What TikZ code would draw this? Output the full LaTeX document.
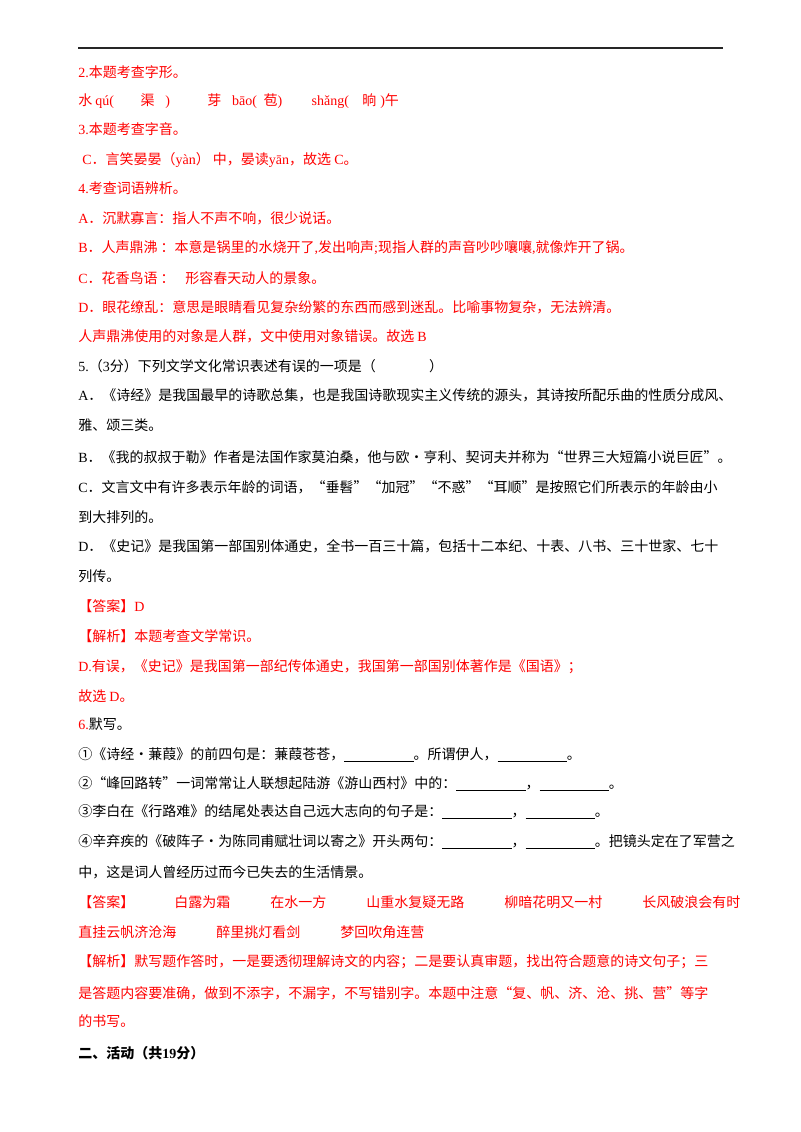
\documentclass[tikz,border=0pt]{standalone}
\usepackage{fontspec}
\setmainfont{Noto Sans CJK SC}
\newfontfamily\lt{Liberation Serif}
\definecolor{rd}{RGB}{255,0,0}
\newcommand{\bl}{\underline{\hspace{52pt}}}
\begin{document}
\begin{tikzpicture}[x=0.75pt,y=-0.75pt,
  ln/.style={anchor=west,inner sep=0pt,font=\fontsize{10.5pt}{12pt}\selectfont},
  r/.style={ln,text=rd}]
\useasboundingbox (0,0) rectangle (800,1132);
\draw[line width=1.2pt,black!85] (78,48) -- (723,48);
\node[r] (l1) at (78,72) {{\lt 2.}本题考查字形。};
\node[r] (l2) at (78,101) {水 {\lt qú(}\hspace{20pt}渠\hspace{8pt}{\lt )}\hspace{28pt}芽\hspace{8pt}{\lt bāo(}\hspace{5pt}苞{\lt )}\hspace{22pt}{\lt shǎng(}\hspace{10pt}晌\hspace{3pt}{\lt )}午};
\node[r] (l3) at (78,129) {{\lt 3.}本题考查字音。};
\node[r] (l4) at (82,160) {{\lt C}．言笑晏晏（{\lt yàn}） 中，晏读{\lt yān}，故选 {\lt C}。};
\node[r] (l5) at (78,188) {{\lt 4.}考查词语辨析。};
\node[r] (l6) at (78,218) {{\lt A}．沉默寡言：指人不声不响，很少说话。};
\node[r] (l7) at (78,248) {{\lt B}．人声鼎沸 ：本意是锅里的水烧开了{\lt ,}发出响声{\lt ;}现指人群的声音吵吵嚷嚷{\lt ,}就像炸开了锅。};
\node[r] (l8) at (78,278) {{\lt C}．花香鸟语 ：\hspace{8pt}形容春天动人的景象。};
\node[r] (l9) at (78,307) {{\lt D}．眼花缭乱：意思是眼睛看见复杂纷繁的东西而感到迷乱。比喻事物复杂，无法辨清。};
\node[r] (l10) at (78,336) {人声鼎沸使用的对象是人群，文中使用对象错误。故选 {\lt B}};
\node[ln] (l11) at (78,366) {{\lt 5.}（{\lt 3}分）下列文学文化常识表述有误的一项是（\hspace{40pt}）};
\node[ln,text width=483pt,align=justify] (l12) at (78,410) {{\lt A}．《诗经》是我国最早的诗歌总集，也是我国诗歌现实主义传统的源头，其诗按所配乐曲的性质分成风、\\[10pt]雅、颂三类。};
\node[ln] (l13) at (78,457) {{\lt B}．《我的叔叔于勒》作者是法国作家莫泊桑，他与欧•亨利、契诃夫并称为“世界三大短篇小说巨匠”。};
\node[ln,text width=483pt] (l14) at (78,502) {{\lt C}．文言文中有许多表示年龄的词语，“垂髫”“加冠”“不惑”“耳顺”是按照它们所表示的年龄由小\\[10pt]到大排列的。};
\node[ln,text width=483pt] (l15) at (78,561) {{\lt D}．《史记》是我国第一部国别体通史，全书一百三十篇，包括十二本纪、十表、八书、三十世家、七十\\[10pt]列传。};
\node[r] (l16) at (78,606) {【答案】{\lt D}};
\node[r] (l17) at (78,636) {【解析】本题考查文学常识。};
\node[r] (l18) at (78,667) {{\lt D.}有误，《史记》是我国第一部纪传体通史，我国第一部国别体著作是《国语》；};
\node[r] (l19) at (78,696) {故选 {\lt D}。};
\node[ln] (l20) at (78,724) {\textcolor{rd}{\lt 6.}默写。};
\node[ln] (l21) at (78,755) {①《诗经•蒹葭》的前四句是：蒹葭苍苍，\bl。所谓伊人，\bl。};
\node[ln] (l22) at (78,784) {②“峰回路转”一词常常让人联想起陆游《游山西村》中的：\bl，\bl。};
\node[ln] (l23) at (78,812) {③李白在《行路难》的结尾处表达自己远大志向的句子是：\bl，\bl。};
\node[ln] (l24) at (78,842) {④辛弃疾的《破阵子•为陈同甫赋壮词以寄之》开头两句：\bl，\bl。把镜头定在了军营之};
\node[ln] (l25) at (78,872) {中，这是词人曾经历过而今已失去的生活情景。};
\node[r] (l26) at (78,902) {【答案】\hspace{30pt}白露为霜\hspace{30pt}在水一方\hspace{30pt}山重水复疑无路\hspace{30pt}柳暗花明又一村\hspace{30pt}长风破浪会有时};
\node[r] (l27) at (78,932) {直挂云帆济沧海\hspace{30pt}醉里挑灯看剑\hspace{30pt}梦回吹角连营};
\node[r] (l28) at (78,962) {【解析】默写题作答时，一是要透彻理解诗文的内容；二是要认真审题，找出符合题意的诗文句子；三};
\node[r] (l29) at (78,993) {是答题内容要准确，做到不添字，不漏字，不写错别字。本题中注意“复、帆、济、沧、挑、营”等字};
\node[r] (l30) at (78,1021) {的书写。};
\node[ln,font=\fontsize{10.5pt}{12pt}\selectfont\bfseries] (l31) at (78,1053) {二、活动（共{\lt\bfseries 19}分）};
\end{tikzpicture}
\end{document}
